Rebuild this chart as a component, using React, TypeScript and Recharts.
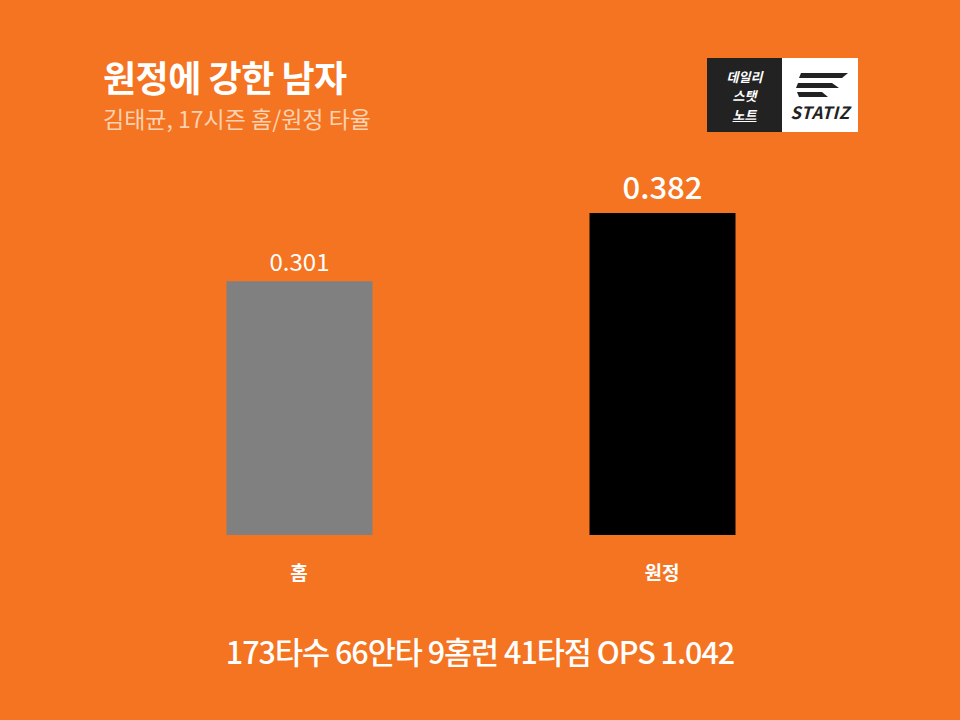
import { BarChart, Bar, XAxis, YAxis, Cell, LabelList } from 'recharts'

const categories = ['홈', '원정']
const battingAvg = [0.301, 0.382]
const barColors = ['#808080', '#000000']
const title = '원정에 강한 남자'
const subtitle = '김태균, 17시즌 홈/원정 타율'
const footer = '173타수 66안타 9홈런 41타점 OPS 1.042'

const data = categories.map((c, i) => ({ name: c, avg: battingAvg[i] }))

const FONT = '"Noto Sans CJK KR", "Noto Sans", sans-serif'
const BG = '#F47421'

const ValueLabel = (props: any) => {
  const { x, y, width, value, index } = props
  const big = index === 1
  return (
    <text
      x={x + width / 2}
      y={y - (big ? 27 : 21)}
      textAnchor="middle"
      dominantBaseline="central"
      fill="#fff"
      fontFamily={FONT}
      fontSize={big ? 31 : 24}
      fontWeight={big ? 500 : 400}
    >
      {value.toFixed(3)}
    </text>
  )
}

const CatTick = ({ x, y, payload }: any) => (
  <text
    x={x}
    y={y + 28}
    textAnchor="middle"
    dominantBaseline="central"
    fill="#fff"
    fontFamily={FONT}
    fontSize={19}
    fontWeight={700}
  >
    {payload.value}
  </text>
)

function Logo() {
  return (
    <div style={{ position: 'absolute', left: 707, top: 58, width: 151, height: 74, display: 'flex' }}>
      <div style={{
        width: 75, height: 74, background: '#222', color: '#fff', fontFamily: FONT,
        fontSize: 13, fontWeight: 700, fontStyle: 'italic', lineHeight: '19px',
        display: 'flex', flexDirection: 'column', alignItems: 'center', justifyContent: 'center'
      }}>
        <span>데일리</span>
        <span>스탯</span>
        <span style={{ textDecoration: 'underline' }}>노트</span>
      </div>
      <div style={{ width: 76, height: 74, background: '#fff', position: 'relative' }}>
        <svg width={76} height={74} style={{ position: 'absolute', left: 0, top: 0 }}>
          <polygon points="19,15 66,15 60,20 17,20" fill="#222" />
          <polygon points="16,25 50,25 57,30 14,30" fill="#222" />
          <polygon points="15,34 40,34 46,39 17,39" fill="#222" />
          <text x={38} y={61} textAnchor="middle" fontFamily={FONT} fontSize={17}
            fontWeight={700} fontStyle="italic" fill="#222" letterSpacing={0.5}>STATIZ</text>
        </svg>
      </div>
    </div>
  )
}

export default function App() {
  return (
    <div style={{ position: 'fixed', left: 0, top: 0, width: 960, height: 720, background: BG, overflow: 'hidden' }}>
      <div style={{ position: 'absolute', left: 103, top: 54, color: '#fff', fontFamily: FONT, fontSize: 36, fontWeight: 700, lineHeight: '44px', whiteSpace: 'nowrap', letterSpacing: -0.5 }}>
        {title}
      </div>
      <div style={{ position: 'absolute', left: 103, top: 102, color: '#FCD2B0', fontFamily: FONT, fontSize: 23, fontWeight: 400, lineHeight: '32px', whiteSpace: 'nowrap' }}>
        {subtitle}
      </div>
      <Logo />
      <div style={{ position: 'absolute', left: 0, top: 0 }}>
        <BarChart width={960} height={720} data={data}
          margin={{ top: 113.5, right: 116.5, left: 117.5, bottom: 155 }}>
          <XAxis dataKey="name" axisLine={false} tickLine={false} height={30} tick={<CatTick />} interval={0} />
          <YAxis hide domain={[0, 0.5]} />
          <Bar dataKey="avg" barSize={146} isAnimationActive={false}>
            {data.map((d, i) => <Cell key={d.name} fill={barColors[i]} />)}
            <LabelList dataKey="avg" content={<ValueLabel />} />
          </Bar>
        </BarChart>
      </div>
      <div style={{ position: 'absolute', left: 0, width: 960, top: 629, textAlign: 'center', color: '#fff', fontFamily: FONT, fontSize: 30.5, fontWeight: 500, lineHeight: '44px', letterSpacing: -1 }}>
        {footer}
      </div>
    </div>
  )
}
